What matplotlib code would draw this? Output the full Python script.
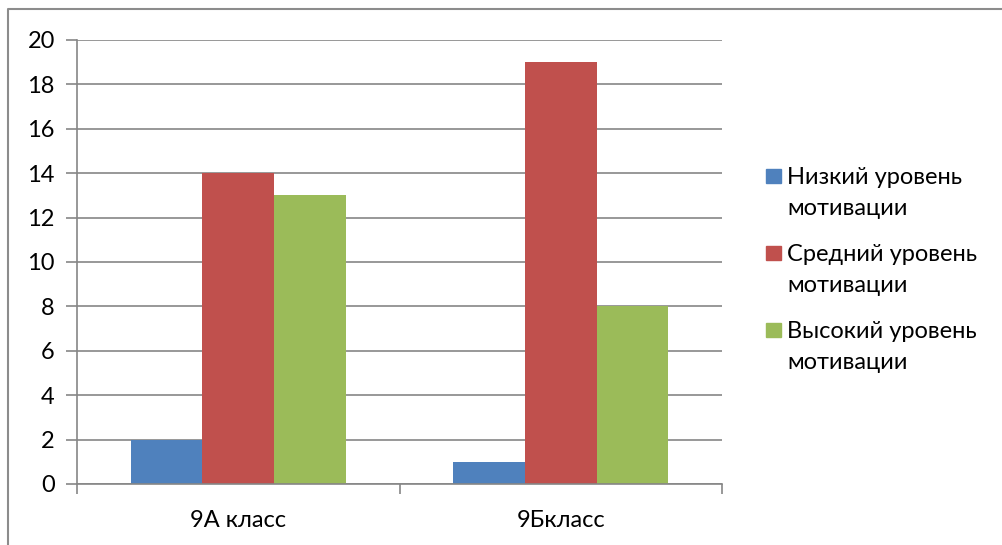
import numpy as np
import matplotlib.pyplot as plt
import matplotlib.patches as mpatches
from matplotlib.lines import Line2D

plt.rcParams['font.family'] = ['Lato', 'DejaVu Sans']

classes = ["9А класс", "9Бкласс"]
series_names = ["Низкий уровень\nмотивации", "Средний уровень\nмотивации", "Высокий уровень\nмотивации"]
low = [2, 1]
mid = [14, 19]
high = [13, 8]
colors = ["#4F81BD", "#C0504D", "#9BBB59"]
grey = "#868686"
fs = 17
W, H = 1002, 545

fig = plt.figure(figsize=(W/100, H/100), dpi=100)
ax = fig.add_axes([77/W, 1-484/H, 645/W, 444/H])

x = np.arange(len(classes))
w = 1/4.5
for i, vals in enumerate([low, mid, high]):
    ax.bar(x + (i-1)*w, vals, w, color=colors[i], label=series_names[i], zorder=2)

ax.set_xlim(-0.5, 1.5)
ax.set_ylim(0, 20)
ax.set_yticks(range(0, 21, 2))
ax.yaxis.grid(True, color=grey, linewidth=1.2, zorder=0)
ax.set_axisbelow(True)

ax.set_xticks(x)
ax.set_xticklabels(classes)
ax.set_xticks([-0.5, 0.5, 1.5], minor=True)
ax.tick_params(axis='x', which='major', length=0, pad=19, labelsize=fs)
ax.tick_params(axis='x', which='minor', length=7, width=1.2, color=grey)
ax.tick_params(axis='y', length=8, width=1.2, color=grey, pad=8, labelsize=fs)

for s in ['top', 'right']:
    ax.spines[s].set_visible(False)
for s in ['left', 'bottom']:
    ax.spines[s].set_color(grey)
    ax.spines[s].set_linewidth(1.2)

# legend drawn by hand so the key sits on the first line, like Excel does
for i, name in enumerate(series_names):
    top = 169 + 77*i
    fig.add_artist(mpatches.Rectangle((766/W, 1-(top+14)/H), 15/W, 14/H,
                                      transform=fig.transFigure, color=colors[i]))
    for j, line in enumerate(name.split("\n")):
        fig.text(787/W, 1-(184 + 77*i + 31*j)/H, line, fontsize=fs, va='baseline', ha='left')

# outer chart border
fig.add_artist(Line2D([8/W, 8/W, 1.0], [0.0, 1-9/H, 1-9/H],
                      transform=fig.transFigure, color="#8c8c8c", linewidth=1.5))

fig.savefig('out.png', dpi=100)
